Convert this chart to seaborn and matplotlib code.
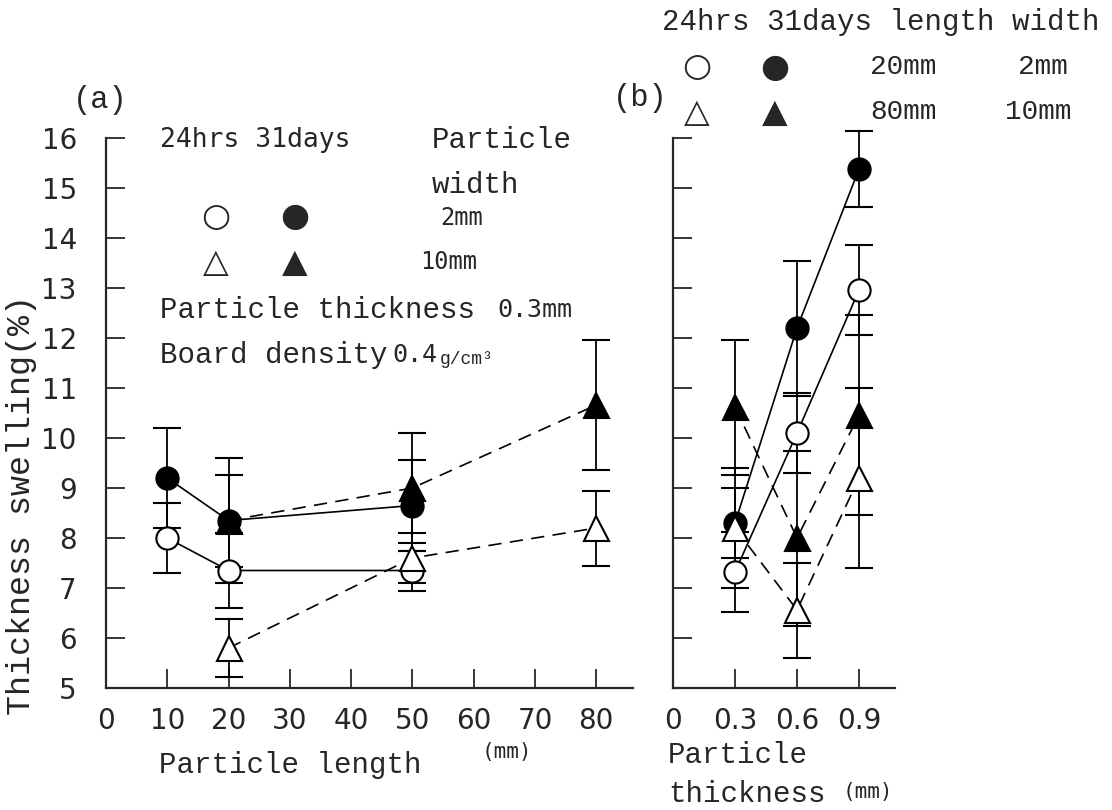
import matplotlib
matplotlib.use("Agg")
import matplotlib.pyplot as plt
import seaborn as sns

# ---- data ----
# (a) swelling vs particle length (thickness 0.3 mm, density 0.4)
length_w2 = [10, 20, 50]
w2_24h = [8.0, 7.35, 7.35]
w2_24h_err = [0.7, 0.75, 0.4]
w2_31d = [9.2, 8.35, 8.65]
w2_31d_err = [1.0, 1.25, 0.9]

length_w10 = [20, 50, 80]
w10_24h = [5.8, 7.6, 8.2]
w10_24h_err = [0.58, 0.5, 0.75]
w10_31d = [8.35, 9.0, 10.66]
w10_31d_err = [0.92, 1.1, 1.3]

length_ticks = [0, 10, 20, 30, 40, 50, 60, 70, 80]

# (b) swelling vs particle thickness
thickness = [0.3, 0.6, 0.9]
l20_24h = [7.32, 10.1, 12.96]
l20_24h_err = [0.8, 0.8, 0.9]
l20_31d = [8.3, 12.2, 15.38]
l20_31d_err = [0.7, 1.35, 0.76]
l80_24h = [8.2, 6.56, 9.2]
l80_24h_err = [1.2, 0.95, 1.8]
l80_31d = [10.62, 8.0, 10.46]
l80_31d_err = [1.35, 1.75, 2.0]

thickness_ticks = [0, 0.3, 0.6, 0.9]
thickness_labels = ["0", "0.3", "0.6", "0.9"]
swelling_ticks = list(range(5, 17))

sns.set_style("ticks")
NARROW = ["Liberation Sans Narrow", "DejaVu Sans"]
SERIF_MONO = ["Liberation Mono", "DejaVu Sans Mono"]
SANS_MONO = ["DejaVu Sans Mono"]
SYM = ["DejaVu Sans"]

W, H = 1112, 810
fig = plt.figure(figsize=(W / 100, H / 100), dpi=100)


def px(x, y):
    return x / W, 1 - y / H


ax_a = fig.add_axes([106 / W, 1 - 688 / H, 527 / W, 550 / H])
ax_b = fig.add_axes([673 / W, 1 - 688 / H, 222 / W, 550 / H])


def draw_series(ax, x, y, err, marker, filled, dashed):
    style = dict(color="black", lw=1.2)
    if dashed:
        style["dashes"] = (8, 5)
    sns.lineplot(x=x, y=y, ax=ax, marker=marker,
                 markersize=16 if marker == "o" else 18,
                 markerfacecolor="black" if filled else "white",
                 markeredgecolor="black", markeredgewidth=1.5,
                 zorder=3, **style)
    eb = ax.errorbar(x, y, yerr=err, fmt="none", ecolor="black",
                     elinewidth=1.3, capsize=10, capthick=1.5, zorder=2)
    for art in list(eb.lines[1]) + list(eb.lines[2]):
        art.set_clip_on(False)


draw_series(ax_a, length_w2, w2_24h, w2_24h_err, "o", False, False)
draw_series(ax_a, length_w2, w2_31d, w2_31d_err, "o", True, False)
draw_series(ax_a, length_w10, w10_24h, w10_24h_err, "^", False, True)
draw_series(ax_a, length_w10, w10_31d, w10_31d_err, "^", True, True)

draw_series(ax_b, thickness, l20_24h, l20_24h_err, "o", False, False)
draw_series(ax_b, thickness, l20_31d, l20_31d_err, "o", True, False)
draw_series(ax_b, thickness, l80_24h, l80_24h_err, "^", False, True)
draw_series(ax_b, thickness, l80_31d, l80_31d_err, "^", True, True)

for ax in (ax_a, ax_b):
    ax.set_ylim(5, 16)
    ax.set_yticks(swelling_ticks)
    sns.despine(ax=ax)
    for s in ("left", "bottom"):
        ax.spines[s].set_linewidth(1.6)
    ax.tick_params(direction="in", length=14, width=1.3, pad=21)
    ax.set_xlabel("")
    ax.set_ylabel("")

ax_a.set_xlim(0, 86)
ax_a.set_xticks(length_ticks)
ax_a.set_xticklabels([str(v) for v in length_ticks])
ax_a.set_yticklabels([str(v) for v in swelling_ticks])
ax_b.set_xlim(0, 1.074)
ax_b.set_xticks(thickness_ticks)
ax_b.set_xticklabels(thickness_labels)
ax_b.tick_params(axis="y", labelleft=False)
ax_a.tick_params(axis="x", pad=14)
ax_b.tick_params(axis="x", pad=14)
for ax in (ax_a, ax_b):
    for lab in ax.get_xticklabels() + ax.get_yticklabels():
        lab.set_family(NARROW)
        lab.set_fontsize(20)

# axis titles
fig.text(*px(22, 505), "Thickness swelling(%)", rotation=90, ha="center",
         va="center", family=SERIF_MONO, fontsize=24)
fig.text(*px(290, 765), "Particle length", ha="center", va="center",
         family=SERIF_MONO, fontsize=21)
fig.text(*px(507, 752), "(mm)", ha="center", va="center",
         family=SANS_MONO, fontsize=15)
fig.text(*px(668, 755), "Particle", ha="left", va="center",
         family=SERIF_MONO, fontsize=21)
fig.text(*px(668, 794), "thickness", ha="left", va="center",
         family=SERIF_MONO, fontsize=21)
fig.text(*px(868, 792), "(mm)", ha="center", va="center",
         family=SANS_MONO, fontsize=15)

# panel (a) key and notes
fig.text(*px(100, 100), "(a)", ha="center", va="center",
         family=SERIF_MONO, fontsize=22)
fig.text(*px(160, 140), "24hrs 31days", ha="left", va="center",
         family=SANS_MONO, fontsize=19)
fig.text(*px(432, 140), "Particle", ha="left", va="center",
         family=SERIF_MONO, fontsize=21)
fig.text(*px(432, 185), "width", ha="left", va="center",
         family=SERIF_MONO, fontsize=21)
for sx, sy, sym in [(216, 216, "○"), (295, 216, "●"), (216, 262, "△"), (295, 262, "▲")]:
    fig.text(*px(sx, sy), sym, ha="center", va="center", family=SYM, fontsize=24)
fig.text(*px(440, 218), "2mm", ha="left", va="center",
         family=SANS_MONO, fontsize=17)
fig.text(*px(420, 262), "10mm", ha="left", va="center",
         family=SANS_MONO, fontsize=17)
fig.text(*px(160, 310), "Particle thickness", ha="left", va="center",
         family=SERIF_MONO, fontsize=21)
fig.text(*px(497, 310), "0.3mm", ha="left", va="center",
         family=SANS_MONO, fontsize=18)
fig.text(*px(160, 355), "Board density", ha="left", va="center",
         family=SERIF_MONO, fontsize=21)
fig.text(*px(392, 355), "0.4", ha="left", va="center",
         family=SANS_MONO, fontsize=18)
fig.text(*px(440, 360), "g/cm³", ha="left", va="center",
         family=SERIF_MONO, fontsize=13)

# panel (b) key
fig.text(*px(640, 98), "(b)", ha="center", va="center",
         family=SERIF_MONO, fontsize=22)
fig.text(*px(662, 22), "24hrs 31days length width", ha="left", va="center",
         family=SERIF_MONO, fontsize=21)
for sx, sy, sym in [(697, 67, "○"), (775, 67, "●"), (697, 112, "△"), (775, 112, "▲")]:
    fig.text(*px(sx, sy), sym, ha="center", va="center", family=SYM, fontsize=24)
fig.text(*px(870, 67), "20mm", ha="left", va="center", family=SERIF_MONO, fontsize=20)
fig.text(*px(1018, 67), "2mm", ha="left", va="center", family=SERIF_MONO, fontsize=20)
fig.text(*px(870, 112), "80mm", ha="left", va="center", family=SERIF_MONO, fontsize=20)
fig.text(*px(1005, 112), "10mm", ha="left", va="center", family=SERIF_MONO, fontsize=20)

fig.savefig("out.png", dpi=100)
